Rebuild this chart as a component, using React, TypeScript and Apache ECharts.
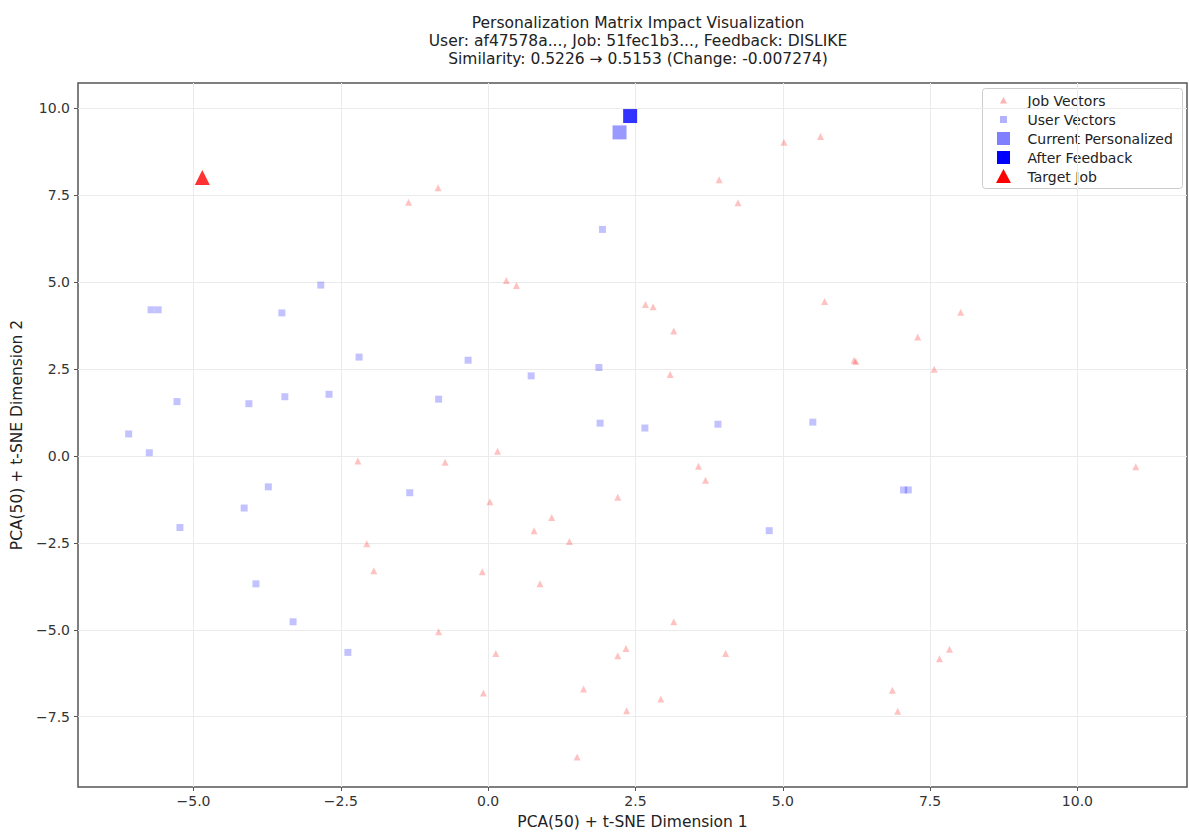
import React, { useEffect, useRef } from "react";
import * as echarts from "echarts";

const titleLines = [
  "Personalization Matrix Impact Visualization",
  "User: af47578a..., Job: 51fec1b3..., Feedback: DISLIKE",
  "Similarity: 0.5226 → 0.5153 (Change: -0.007274)",
];
const xAxisName = "PCA(50) + t-SNE Dimension 1";
const yAxisName = "PCA(50) + t-SNE Dimension 2";
const xTicks = [-5, -2.5, 0, 2.5, 5, 7.5, 10];
const yTicks = [-7.5, -5, -2.5, 0, 2.5, 5, 7.5, 10];
const xRange = [-6.96, 11.86];
const yRange = [-9.52, 10.72];

const jobVectors: [number, number][] = [
  [-1.35, 7.29], [-0.85, 7.71], [0.31, 5.04], [0.48, 4.9], [5.02, 9.02], [5.64, 9.18],
  [3.92, 7.94], [4.24, 7.28], [2.67, 4.35], [2.8, 4.29], [5.71, 4.44], [8.02, 4.13],
  [3.15, 3.59], [7.29, 3.42], [6.21, 2.75], [6.24, 2.71], [7.57, 2.49], [3.09, 2.34],
  [-2.21, -0.15], [-0.73, -0.18], [0.16, 0.13], [3.57, -0.3], [3.69, -0.7], [10.99, -0.31],
  [2.2, -1.19], [0.03, -1.32], [1.08, -1.77], [0.78, -2.15], [1.38, -2.46], [-2.06, -2.53],
  [-1.94, -3.3], [-0.1, -3.33], [0.88, -3.68], [-0.84, -5.06], [0.13, -5.68], [1.62, -6.7],
  [-0.08, -6.82], [1.51, -8.66], [3.15, -4.77], [2.2, -5.75], [2.34, -5.54], [4.03, -5.68],
  [7.83, -5.56], [7.66, -5.83], [2.93, -6.99], [2.35, -7.33], [6.86, -6.74], [6.95, -7.34],
];
const userVectors: [number, number][] = [
  [-2.84, 4.91], [1.94, 6.51], [-5.72, 4.2], [-5.6, 4.2], [-3.5, 4.11], [-2.19, 2.84],
  [-0.34, 2.75], [0.73, 2.3], [1.88, 2.54], [-5.28, 1.56], [-4.06, 1.5], [-3.45, 1.7],
  [-2.7, 1.77], [-0.84, 1.63], [1.9, 0.94], [2.66, 0.8], [3.9, 0.91], [5.51, 0.97],
  [-6.1, 0.63], [-5.75, 0.09], [-3.73, -0.89], [-1.33, -1.06], [-4.14, -1.5], [-5.23, -2.06],
  [7.05, -0.98], [7.13, -0.98], [4.77, -2.15], [-3.94, -3.68], [-3.31, -4.77], [-2.38, -5.65],
];
const currentPersonalized: [number, number][] = [[2.23, 9.3]];
const afterFeedback: [number, number][] = [[2.41, 9.77]];
const targetJob: [number, number][] = [[-4.85, 8.0]];

const legendNames = ["Job Vectors", "User Vectors", "Current Personalized", "After Feedback", "Target Job"];

const FONT = "DejaVu Sans";
const fmt = (v: number) => v.toFixed(1).replace("-", "−");

export default function App() {
  const ref = useRef<HTMLDivElement>(null);
  useEffect(() => {
    const chart = echarts.init(ref.current!, null, { renderer: "svg" });

    const lx = 982;
    const ly = 88;
    const rowY = [12, 31, 50, 69, 88];
    const mx = 21;
    const markers: any[] = [
      {
        type: "polygon",
        shape: { points: [[mx, rowY[0] - 3.5], [mx - 3.5, rowY[0] + 3], [mx + 3.5, rowY[0] + 3]] },
        style: { fill: "rgba(255,0,0,0.3)" },
      },
      { type: "rect", shape: { x: mx - 3.5, y: rowY[1] - 3.5, width: 7, height: 7 }, style: { fill: "rgba(0,0,255,0.3)" } },
      { type: "rect", shape: { x: mx - 6.5, y: rowY[2] - 6.5, width: 13, height: 13 }, style: { fill: "rgba(0,0,255,0.5)" } },
      { type: "rect", shape: { x: mx - 6.5, y: rowY[3] - 6.5, width: 13, height: 13 }, style: { fill: "#0000ff" } },
      {
        type: "polygon",
        shape: { points: [[mx, rowY[4] - 7.5], [mx - 7.5, rowY[4] + 6.5], [mx + 7.5, rowY[4] + 6.5]] },
        style: { fill: "#ff0000" },
      },
    ];
    const texts = legendNames.map((n, i) => ({
      type: "text",
      x: 45,
      y: rowY[i],
      style: { text: n, fill: "#222", font: `14px "${FONT}"`, verticalAlign: "middle", align: "left" },
    }));

    chart.setOption({
      animation: false,
      backgroundColor: "#ffffff",
      textStyle: { fontFamily: FONT },
      title: {
        text: titleLines.join("\n"),
        left: 633,
        top: 9,
        textAlign: "center",
        textStyle: { fontSize: 15.5, lineHeight: 18, fontWeight: "normal", color: "#222", fontFamily: FONT },
      },
      grid: {
        left: 78,
        right: 2,
        top: 83,
        bottom: 44,
        show: true,
        borderColor: "#555",
        borderWidth: 1.5,
        backgroundColor: "transparent",
      },
      xAxis: {
        type: "value",
        min: xRange[0],
        max: xRange[1],
        minInterval: 2.5,
        maxInterval: 2.5,
        name: xAxisName,
        nameLocation: "middle",
        nameGap: 27,
        nameTextStyle: { fontSize: 15.5, color: "#222", fontFamily: FONT },
        axisLine: { show: false, onZero: false },
        axisTick: { show: true, inside: false, length: 4, customValues: xTicks, lineStyle: { color: "#555" } },
        axisLabel: {
          customValues: xTicks,
          formatter: (v: number) => fmt(v),
          fontSize: 14,
          color: "#333",
          margin: 7,
          fontFamily: FONT,
        },
        splitLine: { show: true, lineStyle: { color: "#ebebeb", width: 1 } },
      },
      yAxis: {
        type: "value",
        min: yRange[0],
        max: yRange[1],
        minInterval: 2.5,
        maxInterval: 2.5,
        name: yAxisName,
        nameLocation: "middle",
        nameGap: 50,
        nameRotate: 90,
        nameTextStyle: { fontSize: 15.5, color: "#222", fontFamily: FONT },
        axisLine: { show: false, onZero: false },
        axisTick: { show: true, inside: false, length: 4, customValues: yTicks, lineStyle: { color: "#555" } },
        axisLabel: {
          customValues: yTicks,
          formatter: (v: number) => fmt(v),
          fontSize: 14,
          color: "#333",
          margin: 8,
          fontFamily: FONT,
        },
        splitLine: { show: true, lineStyle: { color: "#ebebeb", width: 1 } },
      },
      series: [
        {
          name: legendNames[0],
          type: "scatter",
          data: jobVectors,
          symbol: "triangle",
          symbolSize: 7,
          itemStyle: { color: "rgba(255,0,0,0.3)" },
          z: 2,
        },
        {
          name: legendNames[1],
          type: "scatter",
          data: userVectors,
          symbol: "rect",
          symbolSize: 7,
          itemStyle: { color: "rgba(0,0,255,0.3)" },
          z: 3,
        },
        {
          name: legendNames[2],
          type: "scatter",
          data: currentPersonalized,
          symbol: "rect",
          symbolSize: 14,
          itemStyle: { color: "rgba(0,0,255,0.5)" },
          z: 4,
        },
        {
          name: legendNames[3],
          type: "scatter",
          data: afterFeedback,
          symbol: "rect",
          symbolSize: 14,
          itemStyle: { color: "#0000ff" },
          z: 5,
        },
        {
          name: legendNames[4],
          type: "scatter",
          data: targetJob,
          symbol: "triangle",
          symbolSize: 15,
          itemStyle: { color: "#ff0000" },
          z: 6,
        },
      ],
      graphic: [
        {
          type: "group",
          left: lx,
          top: ly,
          z: 100,
          children: [
            {
              type: "rect",
              shape: { x: 0, y: 0, width: 200, height: 100, r: 3 },
              style: { fill: "rgba(255,255,255,0.85)", stroke: "#cccccc", lineWidth: 1 },
            },
            ...markers,
            ...texts,
          ],
        },
      ],
    });
    return () => chart.dispose();
  }, []);
  return (
    <div
      ref={ref}
      style={{ position: "fixed", left: 0, top: 0, width: 1189, height: 835, background: "#fff" }}
    />
  );
}
